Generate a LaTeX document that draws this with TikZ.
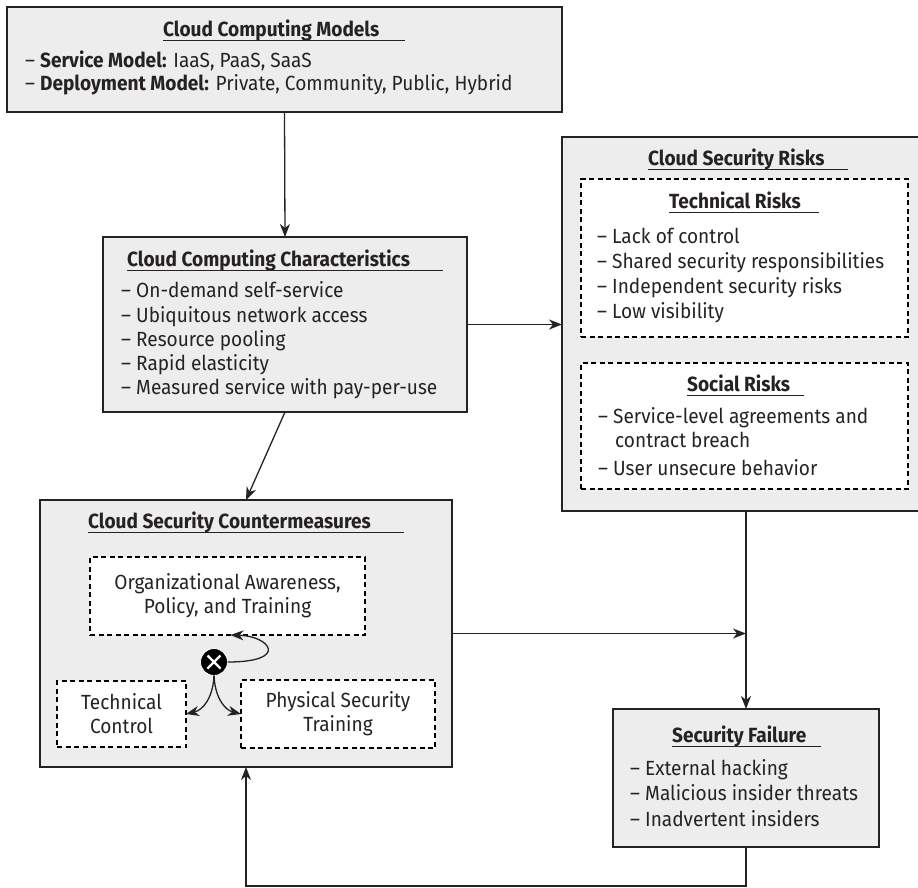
\documentclass[tikz,border=0pt]{standalone}
\usepackage{fontspec}
\setmainfont{Fira Sans}[FakeStretch=0.93]
\usetikzlibrary{arrows.meta,calc}

\definecolor{boxfill}{RGB}{236,237,236}
\definecolor{ink}{RGB}{38,34,35}

\begin{document}
\begin{tikzpicture}[x=1pt,y=-1pt,
  font=\fontsize{20.5}{24}\selectfont,
  mainbox/.style={rectangle, draw=ink, line width=2pt, fill=boxfill,
    inner sep=0pt, outer sep=0pt, anchor=north west},
  subbox/.style={rectangle, draw=black, line width=1.1pt, dash pattern=on 5pt off 3.5pt,
    fill=white, inner sep=0pt, outer sep=0pt, anchor=north west, align=center, text=ink},
  ttl/.style={anchor=base west, inner sep=0pt, text=ink, font=\fontsize{20.5}{24}\selectfont\bfseries},
  ul/.style={draw=ink, line width=1.6pt},
  item/.style={anchor=base west, inner sep=0pt, text=ink},
  conn/.style={draw=ink, line width=1.3pt, -{Stealth[length=13pt,width=10pt,inset=4pt]}},
  plain/.style={draw=ink, line width=1.3pt}]

\useasboundingbox (0,0) rectangle (918,887);
\clip (0,0) rectangle (918,887);

% ---------- main boxes ----------
\node[mainbox, minimum width=555pt, minimum height=105pt] (box1) at (7,7) {};
\node[mainbox, minimum width=364pt, minimum height=175pt] (box2) at (103,237) {};
\node[mainbox, minimum width=368pt, minimum height=374pt] (box3) at (562,137) {};
\node[mainbox, minimum width=412pt, minimum height=267pt] (box4) at (40,500) {};
\node[mainbox, minimum width=266pt, minimum height=138pt] (box5) at (613,709) {};

% ---------- inner dashed boxes ----------
\node[subbox, minimum width=327pt, minimum height=158pt] (trk) at (581,179) {};
\node[subbox, minimum width=327pt, minimum height=126pt] (srk) at (581,363) {};
\node[subbox, minimum width=275pt, minimum height=78pt] (org) at (90,557)
  {Organizational Awareness,\\Policy, and Training};
\node[subbox, minimum width=129pt, minimum height=66pt] (tc) at (57,681)
  {Technical\\Control};
\node[subbox, minimum width=194pt, minimum height=68pt] (ps) at (241,680)
  {Physical Security\\Training};

% ---------- Cloud Computing Models ----------
\node[ttl] (t1) at (163,36) {Cloud Computing Models};
\draw[ul] ($(t1.base west)+(0,4.5)$) -- (405,40.5);
\node[item] (m1) at (25,67) {– \textbf{Service Model:} IaaS, PaaS, SaaS};
\node[item] (m2) at (25,90) {– \textbf{Deployment Model:} Private, Community, Public, Hybrid};

% ---------- Cloud Computing Characteristics ----------
\node[ttl] (t2) at (127,266) {Cloud Computing Characteristics};
\draw[ul] ($(t2.base west)+(0,4.5)$) -- (443,270.5);
\node[item] (c1) at (121,297) {– On-demand self-service};
\node[item] (c2) at (121,322) {– Ubiquitous network access};
\node[item] (c3) at (121,346) {– Resource pooling};
\node[item] (c4) at (121,370) {– Rapid elasticity};
\node[item] (c5) at (121,394) {– Measured service with pay-per-use};

% ---------- Cloud Security Risks ----------
\node[ttl] (t3) at (648,165) {Cloud Security Risks};
\draw[ul] ($(t3.base west)+(0,4.5)$) -- (848,169.5);
\node[ttl] (t3a) at (669,208) {Technical Risks};
\draw[ul] ($(t3a.base west)+(0,4.5)$) -- (819,212.5);
\node[item] (r1) at (597,243) {– Lack of control};
\node[item] (r2) at (597,268) {– Shared security responsibilities};
\node[item] (r3) at (597,293) {– Independent security risks};
\node[item] (r4) at (597,318) {– Low visibility};
\node[ttl] (t3b) at (687,391) {Social Risks};
\draw[ul] ($(t3b.base west)+(0,4.5)$) -- (804,395.5);
\node[item] (s1) at (598,423) {– Service-level agreements and};
\node[item] (s2) at (615,447) {contract breach};
\node[item] (s3) at (598,475) {– User unsecure behavior};

% ---------- Cloud Security Countermeasures ----------
\node[ttl] (t4) at (88,528) {Cloud Security Countermeasures};
\draw[ul] ($(t4.base west)+(0,4.5)$) -- (404,532.5);

\node[circle, fill=black, draw=white, line width=0.8pt, minimum size=27pt,
  inner sep=0pt, outer sep=0pt] (otimes) at (214,662) {};
\draw[white, line width=2.2pt] ($(otimes.center)+(-6.5,-6.5)$) -- ($(otimes.center)+(6.5,6.5)$)
  ($(otimes.center)+(-6.5,6.5)$) -- ($(otimes.center)+(6.5,-6.5)$);

\draw[conn] (otimes.east) .. controls (290,662) and (270,636) .. ([xshift=3pt]org.south);
\draw[conn] (otimes.south) .. controls (213,698) and (203,710) .. (tc.east);
\draw[conn] (otimes.south) .. controls (215,698) and (225,710) .. (ps.west);

% ---------- Security Failure ----------
\node[ttl] (t5) at (672,742) {Security Failure};
\draw[ul] ($(t5.base west)+(0,4.5)$) -- (821,746.5);
\node[item] (f1) at (630,775) {– External hacking};
\node[item] (f2) at (630,800) {– Malicious insider threats};
\node[item] (f3) at (630,826) {– Inadvertent insiders};

% ---------- connectors ----------
\draw[conn] (box1.south) -- (box2.north);
\draw[conn] (box2.east) -- (box2.east -| box3.west);
\draw[conn] (box2.south) -- (box4.north);
\draw[conn] (box3.south) -- (box5.north);
\coordinate (join) at (box4.east -| box3.south);
\draw[conn] (box4.east) -- (join);
\draw[conn] (box5.south) -- ++(0,39) -| (box4.south);

\end{tikzpicture}
\end{document}
